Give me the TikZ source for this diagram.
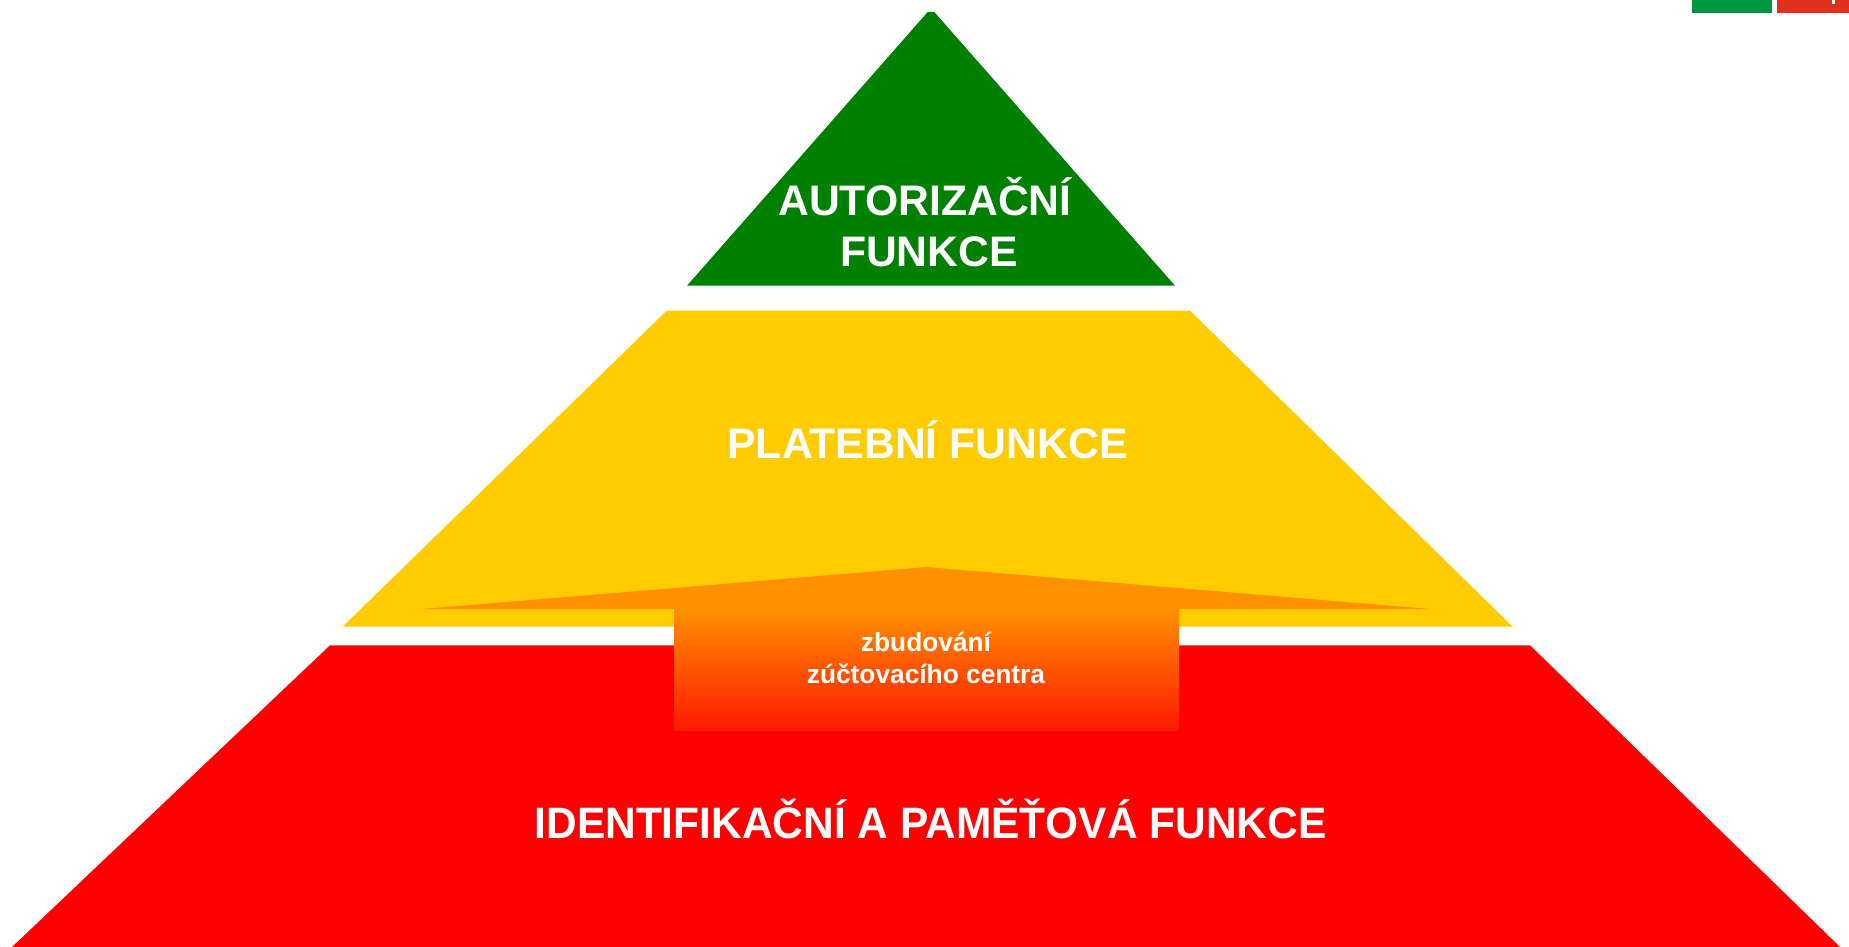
\documentclass[tikz,border=0pt]{standalone}
\usepackage{fontspec}
\setmainfont{Liberation Sans}
\definecolor{pgreen}{RGB}{0,128,0}
\definecolor{pyellow}{RGB}{255,204,0}
\definecolor{pred}{RGB}{255,0,0}
\definecolor{porange}{RGB}{255,145,0}
\definecolor{pshaftbot}{RGB}{255,25,0}
\definecolor{lgreen}{RGB}{0,150,64}
\definecolor{lred}{RGB}{224,48,30}
\begin{document}
\begin{tikzpicture}[x=1pt,y=-1pt,
  lbl/.style={text=white,font=\bfseries,inner sep=0pt,anchor=base}]
\useasboundingbox (0,0) rectangle (1849,947);
\fill[white] (0,0) rectangle (1849,947);
% corner marks
\fill[lgreen] (1692,0) rectangle (1772,12.7);
\fill[lred] (1777,0) rectangle (1849,12.7);
\fill[white] (1832,0) rectangle (1835,4.5);
% pyramid levels
\fill[pred] (330,645.3) -- (1530,645.3) -- (1840,947) -- (12,947) -- cycle;
\fill[pyellow] (666.7,310.7) -- (1190,310.7) -- (1512.7,626.7) -- (342.7,626.7) -- cycle;
\fill[pgreen] (927.7,12) -- (934.3,12) -- (1175,285.7) -- (687,285.7) -- cycle;
% arrow
\fill[porange] (422,609) -- (926,567) -- (1430,609) -- cycle;
\shade[top color=porange,bottom color=pshaftbot] (674,608.5) rectangle (1179,730);
% texts
\node[lbl,font=\bfseries\fontsize{42.7}{50}\selectfont] (auth1) at (925,215) {AUTORIZAČNÍ};
\node[lbl,font=\bfseries\fontsize{42.7}{50}\selectfont] (auth2) at (929,266.7) {FUNKCE};
\node[lbl,font=\bfseries\fontsize{42.7}{50}\selectfont] (plat) at (927.5,458) {PLATEBNÍ FUNKCE};
\node[lbl,font=\bfseries\fontsize{26.3}{31}\selectfont] (zb1) at (926,651.7) {zbudování};
\node[lbl,font=\bfseries\fontsize{26.3}{31}\selectfont] (zb2) at (926,683.4) {zúčtovacího centra};
\node[lbl,font=\bfseries\fontsize{44}{52}\selectfont,xscale=0.965] (ident) at (930.5,838.7) {IDENTIFIKAČNÍ A PAMĚŤOVÁ FUNKCE};
\end{tikzpicture}
\end{document}
